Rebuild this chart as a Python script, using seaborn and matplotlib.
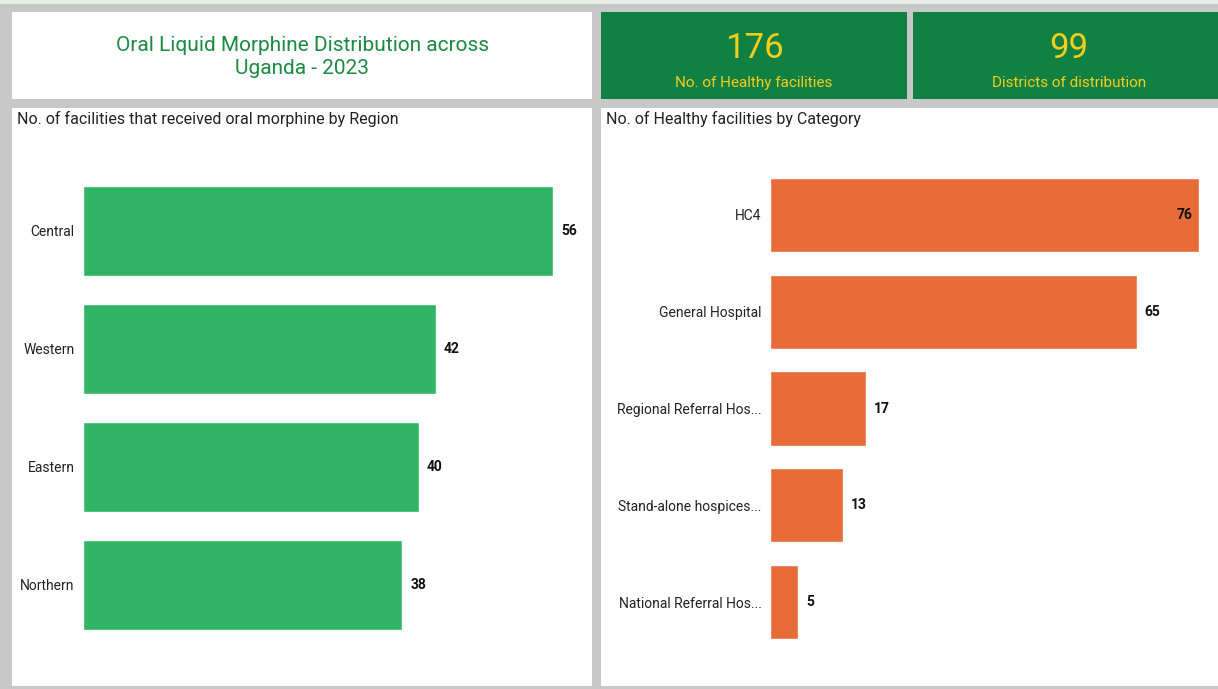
import matplotlib
matplotlib.use("Agg")
import matplotlib.pyplot as plt
from matplotlib.patches import Rectangle
import seaborn as sns
import pandas as pd

regions = ["Central", "Western", "Eastern", "Northern"]
region_counts = [56, 42, 40, 38]
categories = ["HC4", "General Hospital", "Regional Referral Hos...",
              "Stand-alone hospices...", "National Referral Hos..."]
category_counts = [76, 65, 17, 13, 5]
title_text = "Oral Liquid Morphine Distribution across\nUganda - 2023"
kpi_values = ["176", "99"]
kpi_labels = ["No. of Healthy facilities", "Districts of distribution"]

sns.set_theme(style="white")
plt.rcParams['font.family'] = ['Roboto', 'DejaVu Sans']

W, H = 1218, 689
fig = plt.figure(figsize=(W / 100, H / 100), dpi=100)
fig.patch.set_facecolor("#e9eee9")

def px_rect(x0, y0, x1, y1):
    return [x0 / W, 1 - y1 / H, (x1 - x0) / W, (y1 - y0) / H]

def panel(x0, y0, x1, y1, color):
    l, b, w, h = px_rect(x0, y0, x1, y1)
    fig.patches.append(Rectangle((l, b), w, h, transform=fig.transFigure,
                                 facecolor=color, edgecolor="none", zorder=-10))

# grey frame
panel(0, 4, W, H, "#c8c8c8")
panel(12, 12, 592, 99, "white")
panel(601, 12, 907, 99, "#108043")
panel(913, 12, W, 99, "#108043")
panel(12, 108, 592, 686, "white")
panel(601, 108, W, 686, "white")

def fx(x):
    return x / W

def fy(y):
    return 1 - y / H

fig.text(fx(302), fy(57), title_text, ha="center", va="center",
         color="#1b8a43", fontsize=15, linespacing=1.3)
for cx, v, lab in zip([754, 1069], kpi_values, kpi_labels):
    fig.text(fx(cx), fy(49), v, ha="center", va="center", color="#f5cd1a", fontsize=25)
    fig.text(fx(cx), fy(83), lab, ha="center", va="center", color="#f5cd1a", fontsize=11)

fig.text(fx(17), fy(119), "No. of facilities that received oral morphine by Region",
         ha="left", va="center", color="#222222", fontsize=11.5)
fig.text(fx(606), fy(119), "No. of Healthy facilities by Category",
         ha="left", va="center", color="#222222", fontsize=11.5)

# left chart
df1 = pd.DataFrame({"region": regions, "count": region_counts})
ax1 = fig.add_axes(px_rect(83, 172, 83 + 8.393 * 60, 644))
sns.barplot(data=df1, y="region", x="count", orient="h", color="#2fb565",
            saturation=1, width=0.763, ax=ax1)
ax1.set_xlim(0, 60)
ax1.set_ylim(3.5, -0.5)
for i, v in enumerate(region_counts):
    ax1.text(v + 1.0, i, str(v), va="center", ha="left", fontsize=10,
             fontweight="bold", color="#111111")

# right chart
df2 = pd.DataFrame({"category": categories, "count": category_counts})
ax2 = fig.add_axes(px_rect(770, 166.6, 1199, 650.4))
sns.barplot(data=df2, y="category", x="count", orient="h", color="#e86c37",
            saturation=1, width=0.765, ax=ax2)
ax2.set_xlim(0, 76)
ax2.set_ylim(4.5, -0.5)
for i, v in enumerate(category_counts):
    if v == max(category_counts):
        ax2.text(v - 1.2, i, str(v), va="center", ha="right", fontsize=10,
                 fontweight="bold", color="#111111")
    else:
        ax2.text(v + 1.4, i, str(v), va="center", ha="left", fontsize=10,
                 fontweight="bold", color="#111111")

for ax in (ax1, ax2):
    ax.set_facecolor("none")
    ax.set_xlabel("")
    ax.set_ylabel("")
    ax.set_xticks([])
    for s in ax.spines.values():
        s.set_visible(False)
    ax.tick_params(axis="y", length=0, pad=6, labelsize=10, labelcolor="#222222")

fig.savefig("out.png", dpi=100, facecolor=fig.get_facecolor())
